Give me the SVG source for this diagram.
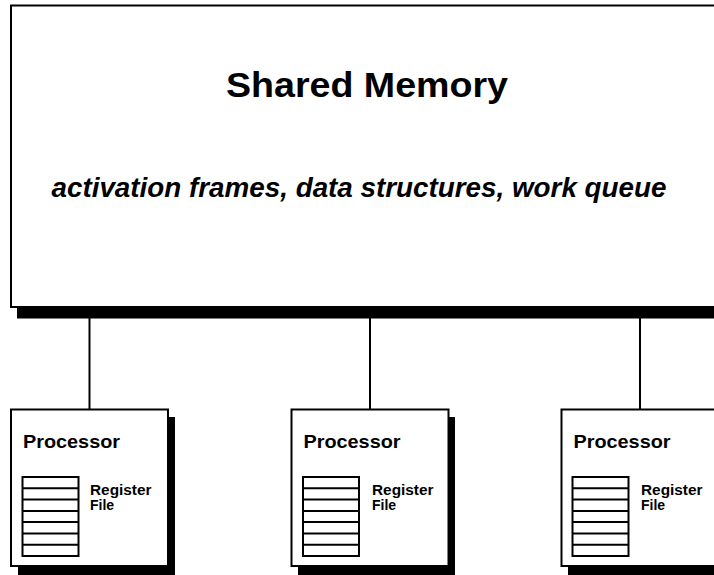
<svg xmlns="http://www.w3.org/2000/svg" width="714" height="575" viewBox="0 0 714 575">
<style>
.box{fill:#fff;stroke:#000;stroke-width:2}
.shadow{fill:#000}
.conn{stroke:#000;stroke-width:2;fill:none}
.reg{fill:#fff;stroke:#000;stroke-width:2}
.t{font-family:"Liberation Sans",Arial,sans-serif;font-weight:bold;fill:#000}
</style>
<defs>
<g id="regfile">
<rect class="reg" x="0" y="0" width="56" height="79"/>
<path class="conn" d="M0 11.3H56M0 22.6H56M0 33.9H56M0 45.1H56M0 56.4H56M0 67.7H56"/>
</g>
</defs>
<g id="connectors">
<line class="conn" x1="89.5" y1="318" x2="89.5" y2="409"/>
<line class="conn" x1="370" y1="318" x2="370" y2="409"/>
<line class="conn" x1="640" y1="318" x2="640" y2="409"/>
</g>
<g id="shared-memory">
<rect class="shadow" x="17" y="308" width="710" height="10.5"/>
<rect class="box" x="11" y="5.5" width="720" height="301.5"/>
<text class="t" x="367" y="97" font-size="35" text-anchor="middle" textLength="282" lengthAdjust="spacingAndGlyphs">Shared Memory</text>
<text class="t" x="359" y="197" font-size="27" font-style="italic" text-anchor="middle" textLength="615" lengthAdjust="spacingAndGlyphs">activation frames, data structures, work queue</text>
</g>
<g id="processor1">
<rect class="shadow" x="18" y="417" width="157" height="158"/>
<rect class="box" x="11" y="409.5" width="157" height="156.5"/>
<text class="t" x="23" y="448" font-size="19" textLength="97" lengthAdjust="spacingAndGlyphs">Processor</text>
<use href="#regfile" x="22.5" y="477"/>
<text class="t" x="90" y="495" font-size="14" textLength="61.5" lengthAdjust="spacingAndGlyphs">Register</text>
<text class="t" x="90" y="510" font-size="14">File</text>
</g>
<g id="processor2">
<rect class="shadow" x="298" y="417" width="157" height="158"/>
<rect class="box" x="291.5" y="409.5" width="157" height="156.5"/>
<text class="t" x="303.5" y="448" font-size="19" textLength="97" lengthAdjust="spacingAndGlyphs">Processor</text>
<use href="#regfile" x="303" y="477"/>
<text class="t" x="372" y="495" font-size="14" textLength="61.5" lengthAdjust="spacingAndGlyphs">Register</text>
<text class="t" x="372" y="510" font-size="14">File</text>
</g>
<g id="processor3">
<rect class="shadow" x="568" y="417" width="157" height="158"/>
<rect class="box" x="561.5" y="409.5" width="157" height="156.5"/>
<text class="t" x="573.5" y="448" font-size="19" textLength="97" lengthAdjust="spacingAndGlyphs">Processor</text>
<use href="#regfile" x="572.5" y="477"/>
<text class="t" x="641" y="495" font-size="14" textLength="61.5" lengthAdjust="spacingAndGlyphs">Register</text>
<text class="t" x="641" y="510" font-size="14">File</text>
</g>
</svg>
